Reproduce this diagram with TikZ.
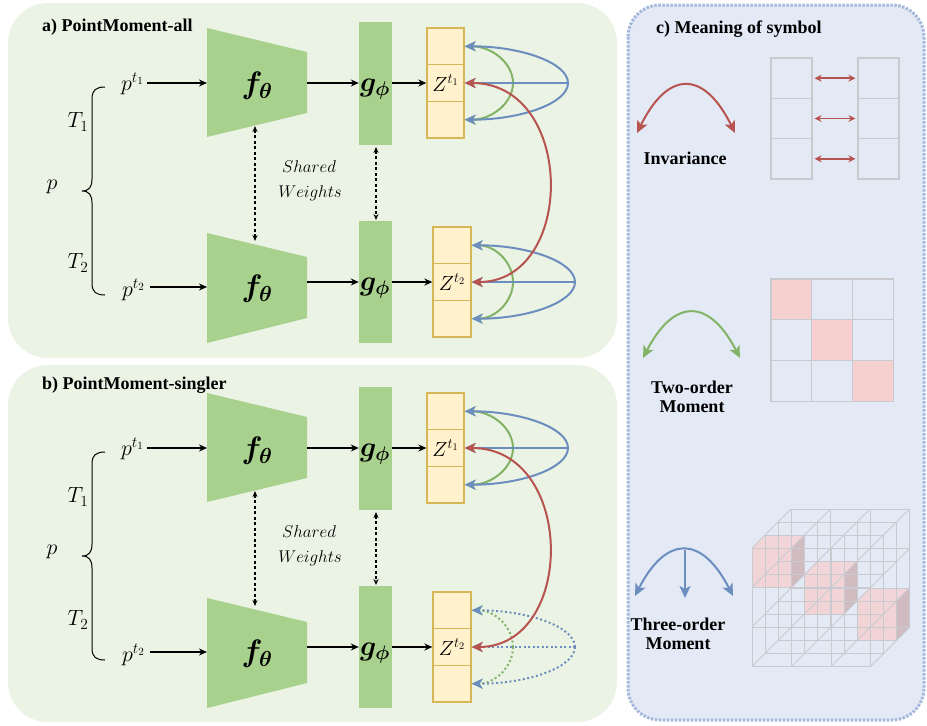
\RequirePackage{fix-cm}
\documentclass[tikz,border=0pt]{standalone}
\usepackage{amsmath,bm}
\usepackage{fontspec}
\setmainfont{Liberation Serif}
\usetikzlibrary{arrows.meta}
\definecolor{panelgreen}{HTML}{EBF3E5}
\definecolor{blockgreen}{HTML}{A9D18E}
\definecolor{zfill}{HTML}{FFF2CC}
\definecolor{zdraw}{HTML}{D6B656}
\definecolor{bluec}{HTML}{6C8EBF}
\definecolor{redc}{HTML}{B85450}
\definecolor{greenc}{HTML}{82B366}
\definecolor{panelc}{HTML}{E3E9F5}
\definecolor{panelcb}{HTML}{A3B8DA}
\definecolor{pinkc}{HTML}{F6CFCF}
\definecolor{pinkside}{HTML}{CDB3B8}
\definecolor{gridc}{HTML}{C8CACF}

\newcommand\drawpanel[3]{%
\begin{scope}[shift={(0,#2)}]
 \draw[line width=1pt] (105,87) .. controls (96,87) and (92,90) .. (92,99) -- (92,179) .. controls (92,187) and (89,191) .. (82,191) .. controls (89,191) and (92,195) .. (92,203) -- (92,283) .. controls (92,292) and (96,295) .. (105,295);
 \node[midm] (#1p) at (52,187) {$p$};
 \node[midm, anchor=east] (#1pa) at (144,84) {$p^{t_1}$};
 \node[midm, anchor=east] (#1pb) at (145,290) {$p^{t_2}$};
 \fill[blockgreen] (207,28) -- (307,52) -- (307,113) -- (207,137) -- cycle;
 \fill[blockgreen] (207,233) -- (307,257) -- (307,318) -- (207,343) -- cycle;
 \node[bigm] (#1fa) at (257,86) {$\bm{f_\theta}$};
 \node[bigm] (#1fb) at (257,289) {$\bm{f_\theta}$};
 \node[gbox] (#1ga) at (375.5,83.5) {};
 \node[gbox, minimum height=122pt] (#1gb) at (375.5,282) {};
 \node[gm] (#1gat) at (375,89) {$\bm{g_\phi}$};
 \node[gm] (#1gbt) at (375,288) {$\bm{g_\phi}$};
 \node[sw] (#1sh) at (309,167) {$Shared$};
 \node[sw] (#1wt) at (310,193) {$Weights$};
 \node[zbox] (#1za) at (445.5,46.3) {};
 \node[zbox] (#1zb) at (445.5,83) {$Z^{t_1}$};
 \node[zbox] (#1zc) at (445.5,119.7) {};
 \node[zbox, minimum width=38pt] (#1zd) at (452,245.3) {};
 \node[zbox, minimum width=38pt] (#1ze) at (452,282) {$Z^{t_2}$};
 \node[zbox, minimum width=38pt] (#1zf) at (452,318.7) {};
 \coordinate (#1a1) at (147,83); \coordinate (#1a2) at (207,83); \coordinate (#1a3) at (307,83);
 \coordinate (#1b1) at (150,287); \coordinate (#1b2) at (207,287); \coordinate (#1b3) at (307,282);
 \coordinate (#1d1) at (255,126); \coordinate (#1d2) at (255,241);
 \coordinate (#1e1) at (376,147); \coordinate (#1e2) at (376,220);
 \draw[arr] (#1a1) -- (#1a2);
 \draw[arr] (#1a3) -- (#1a3 -| #1ga.west);
 \draw[arr] (#1ga.east |- #1zb) -- (#1zb.west);
 \draw[arr] (#1b1) -- (#1b2);
 \draw[arr] (#1b3) -- (#1gb.west);
 \draw[arr] (#1gb.east) -- (#1ze.west);
 \draw[darr] (#1d1) -- (#1d2);
 \draw[darr] (#1e1) -- (#1e2);
 \coordinate (#1o1) at (568,83); \coordinate (#1q1) at (513,83);
 \draw[carc, greenc] (#1q1) .. controls +(0,-20) and +(27,0) .. (#1za.east);
 \draw[carc, greenc] (#1q1) .. controls +(0,20) and +(27,0) .. (#1zc.east);
 \draw[carc, bluec] (#1o1) .. controls +(0,-20) and +(57,0) .. (#1za.east);
 \draw[carc, bluec] (#1o1) .. controls +(0,20) and +(57,0) .. (#1zc.east);
 \draw[carc, bluec] (#1o1) -- (#1zb.east);
 \coordinate (#1o2) at (575,282); \coordinate (#1q2) at (513,282);
 \draw[carc, greenc, #3] (#1q2) .. controls +(0,-20) and +(23,0) .. (#1zd.east);
 \draw[carc, greenc, #3] (#1q2) .. controls +(0,20) and +(23,0) .. (#1zf.east);
 \draw[carc, bluec, #3] (#1o2) .. controls +(0,-20) and +(57,0) .. (#1zd.east);
 \draw[carc, bluec, #3] (#1o2) .. controls +(0,20) and +(57,0) .. (#1zf.east);
 \draw[carc, bluec, #3] (#1o2) -- (#1ze.east);
 \draw[carc, redc, {Stealth[length=11pt,width=10pt,inset=3pt]}-{Stealth[length=11pt,width=10pt,inset=3pt]}] (#1zb.east) .. controls (576,83) and (576,282) .. (#1ze.east);
\end{scope}}

\begin{document}
\begin{tikzpicture}[x=1pt,y=-1pt,
  ttl/.style={font=\fontsize{18}{21}\selectfont\bfseries, inner sep=0},
  lbl/.style={font=\fontsize{18}{21}\selectfont\bfseries, inner sep=0, align=center},
  bigm/.style={font=\fontsize{31}{35}\selectfont, inner sep=0},
  gm/.style={font=\fontsize{28}{32}\selectfont, inner sep=0},
  midm/.style={font=\fontsize{22}{26}\selectfont, inner sep=0},
  sw/.style={font=\fontsize{17}{20}\selectfont, inner sep=0},
  zbox/.style={draw=zdraw, fill=zfill, line width=1.3pt, minimum width=37pt, minimum height=36.7pt, inner sep=0, font=\fontsize{20.5}{24}\selectfont},
  gbox/.style={fill=blockgreen, minimum width=33pt, minimum height=123pt, inner sep=0},
  arr/.style={line width=1.4pt, -{Stealth[length=8pt,width=7pt]}},
  darr/.style={line width=1.1pt, dash pattern=on 3pt off 2.5pt, {Stealth[length=6pt,width=5pt]}-{Stealth[length=6pt,width=5pt]}},
  carc/.style={line width=2pt, -{Stealth[length=11pt,width=10pt,inset=3pt]}},
  solidline/.style={},
  dotline/.style={dash pattern=on 2pt off 2.5pt},
  cell/.style={draw=gridc, line width=1.2pt, minimum width=40.7pt, minimum height=40.7pt, inner sep=0},
  sym/.style={line width=2pt},
  symtip/.style={{Stealth[length=12pt,width=11pt,inset=3pt]}-{Stealth[length=12pt,width=11pt,inset=3pt]}}
]
\useasboundingbox (0,0) rectangle (927,726);
% panels
\fill[panelgreen, rounded corners=40pt] (8,3) rectangle (617,358);
\fill[panelgreen, rounded corners=40pt] (8,365) rectangle (617,722);
\fill[panelc, rounded corners=32pt] (628,5) rectangle (924,720);
\draw[panelcb, line width=3pt, dash pattern=on 2.5pt off 1.5pt, rounded corners=32pt] (628,5) rectangle (924,720);

\node[ttl, anchor=west] (ta) at (42,27) {a) PointMoment-all};
\node[ttl, anchor=west] (tb) at (42,385) {b) PointMoment-singler};
\node[ttl, anchor=west] (tc) at (656,29) {c) Meaning of symbol};

\node[midm] (aT1) at (78,122) {$T_1$};
\node[midm] (aT2) at (78,263) {$T_2$};
\node[midm] (bT1) at (78,497) {$T_1$};
\node[midm] (bT2) at (78,620) {$T_2$};

\drawpanel{a}{0}{solidline}
\drawpanel{b}{365}{dotline}

% ---- panel c ----
% invariance
\coordinate (ra) at (637,133); \coordinate (rb) at (735,133);
\draw[sym, redc, symtip] (ra) .. controls (668,70) and (704,70) .. (rb);
\node[lbl] (inv) at (685,158) {Invariance};
\foreach \r in {0,1,2}{
  \node[cell, minimum width=41pt, minimum height=40.3pt] (il\r) at (791.5,78.2+40.3*\r) {};
  \node[cell, minimum width=41pt, minimum height=40.3pt] (ir\r) at (878.5,78.2+40.3*\r) {};
  \draw[redc, line width=1.8pt, {Stealth[length=7pt,width=7pt]}-{Stealth[length=7pt,width=7pt]}] ([xshift=2pt]il\r.east) -- ([xshift=-2pt]ir\r.west);
}
% two-order
\coordinate (ga) at (643,358); \coordinate (gb) at (740,358);
\draw[sym, greenc, symtip] (ga) .. controls (674,298) and (709,298) .. (gb);
\node[lbl] (two) at (692,397) {Two-order\\[-2pt]Moment};
\foreach \r in {0,1,2}{
  \foreach \c in {0,1,2}{
    \ifnum\r=\c
      \node[cell, fill=pinkc] (m\r\c) at (791.35+40.7*\c,299.35+40.7*\r) {};
    \else
      \node[cell] (m\r\c) at (791.35+40.7*\c,299.35+40.7*\r) {};
    \fi
  }
}
% three-order
\coordinate (ba) at (635,596); \coordinate (bb) at (733,596);
\coordinate (bm) at (685,550); \coordinate (bn) at (685,598);
\draw[sym, bluec, symtip] (ba) .. controls (666,535) and (702,535) .. (bb);
\draw[sym, bluec, -{Stealth[length=12pt,width=11pt,inset=3pt]}] (bm) -- (bn);
\node[lbl] (three) at (678,634) {Three-order\\[-2pt]Moment};
% cube
\foreach \k in {0,1,2}{
  \pgfmathsetmacro\fx{752+\k*52.5}
  \pgfmathsetmacro\fy{548+\k*26.5}
  \fill[pinkc, opacity=.75] (\fx,\fy) -- ++(13,-13) -- ++(39.5,0) -- ++(-13,13) -- cycle;
  \fill[pinkside, opacity=.85] (\fx+39.5,\fy) -- ++(13,-13) -- ++(0,39.5) -- ++(-13,13) -- cycle;
  \fill[pinkc, opacity=.8] (\fx,\fy) rectangle ++(39.5,39.5);
}
\foreach \d in {0,...,3}{
  \foreach \i in {0,...,3}{
    \draw[gridc, line width=1pt] (752+13*\d+39.5*\i,548-13*\d) -- ++(0,118.5);
    \draw[gridc, line width=1pt] (752+13*\d,548-13*\d+39.5*\i) -- ++(118.5,0);
  }
}
\foreach \i in {0,...,3}{
  \foreach \j in {0,...,3}{
    \draw[gridc, line width=1pt] (752+39.5*\i,548+39.5*\j) -- ++(39,-39);
  }
}
\end{tikzpicture}
\end{document}
